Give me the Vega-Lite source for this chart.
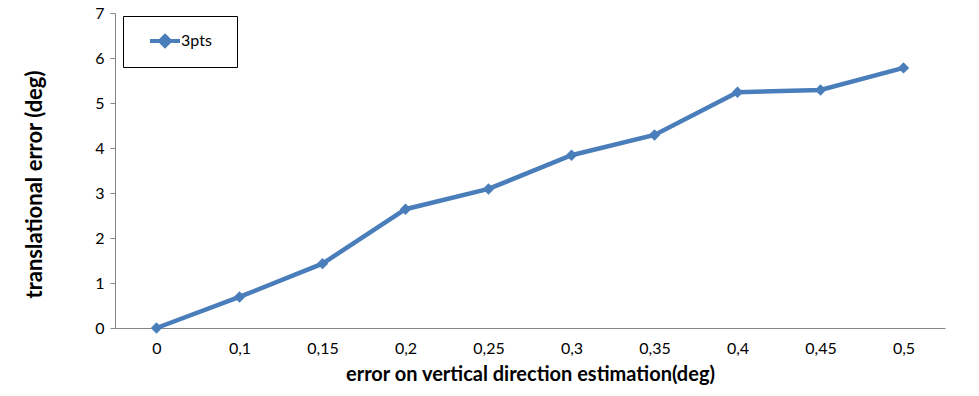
{
  "$schema": "https://vega.github.io/schema/vega-lite/v6.json",
  "autosize": "none",
  "width": 830,
  "height": 315,
  "padding": {"left": 115, "top": 13, "right": 34, "bottom": 68},
  "background": "white",
  "config": {
    "view": {"stroke": null},
    "font": "Lato",
    "axis": {
      "domainColor": "#868686",
      "tickColor": "#868686",
      "labelColor": "#000000",
      "labelFont": "Lato",
      "labelFontSize": 16,
      "titleFont": "Lato",
      "titleFontWeight": "bold",
      "titleColor": "#000000",
      "grid": false
    }
  },
  "data": {
    "values": [
      {"err": "0", "val": 0.0, "series": "3pts"},
      {"err": "0.1", "val": 0.69, "series": "3pts"},
      {"err": "0.15", "val": 1.43, "series": "3pts"},
      {"err": "0.2", "val": 2.64, "series": "3pts"},
      {"err": "0.25", "val": 3.09, "series": "3pts"},
      {"err": "0.3", "val": 3.84, "series": "3pts"},
      {"err": "0.35", "val": 4.29, "series": "3pts"},
      {"err": "0.4", "val": 5.24, "series": "3pts"},
      {"err": "0.45", "val": 5.29, "series": "3pts"},
      {"err": "0.5", "val": 5.78, "series": "3pts"}
    ]
  },
  "encoding": {
    "x": {
      "field": "err",
      "type": "ordinal",
      "sort": null,
      "scale": {"type": "point", "padding": 0.5},
      "axis": {
        "title": "error on vertical direction estimation(deg)",
        "titleFontSize": 20,
        "labelAngle": 0,
        "ticks": false,
        "labelPadding": 12,
        "titlePadding": 8,
        "labelExpr": "replace(datum.label, '.', ',')"
      }
    },
    "y": {
      "field": "val",
      "type": "quantitative",
      "scale": {"domain": [0, 7], "nice": false},
      "axis": {
        "title": "translational error (deg)",
        "titleFontSize": 22,
        "titleY": 171,
        "values": [0, 1, 2, 3, 4, 5, 6, 7],
        "tickSize": 5,
        "labelPadding": 6,
        "titlePadding": 48
      }
    },
    "color": {
      "field": "series",
      "type": "nominal",
      "scale": {"range": ["#4A7EBB"]},
      "legend": {
        "title": "\u00a0",
        "titleOrient": "right",
        "titlePadding": 12,
        "titleFontSize": 16,
        "orient": "none",
        "legendX": 8,
        "legendY": 3,
        "strokeColor": "#000000",
        "padding": 13,
        "symbolType": "M-1.5,0H1.5M0,-0.5L0.5,0L0,0.5L-0.5,0Z",
        "symbolSize": 400,
        "symbolStrokeWidth": 4,
        "symbolFillColor": "#4A7EBB",
        "symbolStrokeColor": "#4A7EBB",
        "symbolOffset": 17,
        "labelOffset": 4,
        "labelFontSize": 16,
        "labelFont": "Lato",
        "labelColor": "#000000"
      }
    }
  },
  "layer": [
    {"mark": {"type": "line", "strokeWidth": 4.5}},
    {"mark": {"type": "point", "shape": "diamond", "filled": true, "size": 130, "opacity": 1}}
  ]
}
